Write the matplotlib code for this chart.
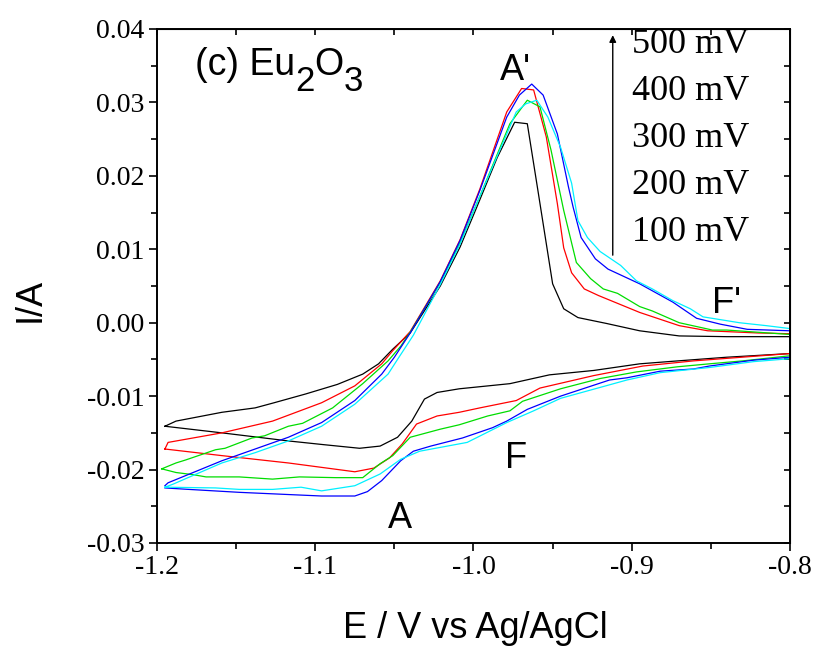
import matplotlib
matplotlib.use('Agg')
from matplotlib import pyplot
from matplotlib.ticker import MultipleLocator, NullFormatter

# ---- data (E in V, I in A); each loop: anodic branch then cathodic branch
e_100 = [-1.195, -1.188, -1.159, -1.138, -1.126, -1.106, -1.086, -1.070, -1.060, -1.051, -1.040, -1.021,
         -1.0085, -0.998, -0.985, -0.974, -0.966, -0.959, -0.950, -0.943, -0.934, -0.916, -0.895, -0.870,
         -0.840, -0.800,
         -0.800, -0.840, -0.871, -0.895, -0.924, -0.952, -0.977, -1.009, -1.023, -1.031, -1.039, -1.048,
         -1.059, -1.072, -1.095, -1.117, -1.159, -1.195]
i_100 = [-0.0141, -0.0134, -0.0122, -0.0116, -0.0109, -0.0097, -0.0084, -0.0070, -0.0056, -0.0036, -0.0014, 0.0050,
         0.0103, 0.0157, 0.0225, 0.0273, 0.0271, 0.0176, 0.0053, 0.0019, 0.0007, -0.0001, -0.0011, -0.0018,
         -0.0019, -0.0019,
         -0.0042, -0.0047, -0.0052, -0.0056, -0.0065, -0.0071, -0.0083, -0.0090, -0.0095, -0.0104, -0.0134, -0.0156,
         -0.0168, -0.0171, -0.0166, -0.0161, -0.0150, -0.0141]

e_200 = [-1.195, -1.193, -1.159, -1.127, -1.096, -1.075, -1.058, -1.051, -1.040, -1.021, -1.0085, -0.996,
         -0.979, -0.9696, -0.962, -0.954, -0.947, -0.943, -0.938, -0.930, -0.921, -0.895, -0.870, -0.852,
         -0.820, -0.800,
         -0.800, -0.861, -0.893, -0.924, -0.958, -0.973, -0.996, -1.009, -1.023, -1.036, -1.045, -1.053,
         -1.063, -1.075, -1.117, -1.159, -1.195]
i_200 = [-0.0172, -0.0163, -0.0150, -0.0134, -0.0109, -0.0086, -0.0056, -0.0038, -0.0012, 0.0057, 0.0113, 0.0182,
         0.0287, 0.0319, 0.0317, 0.0253, 0.0162, 0.0102, 0.0068, 0.0046, 0.0037, 0.0014, -0.0004, -0.0011,
         -0.0014, -0.0015,
         -0.0042, -0.0052, -0.0059, -0.0072, -0.0089, -0.0106, -0.0116, -0.0122, -0.0127, -0.0138, -0.0165, -0.0184,
         -0.0198, -0.0203, -0.0191, -0.0181, -0.0172]

e_300 = [-1.197, -1.188, -1.182, -1.163, -1.157, -1.140, -1.132, -1.117, -1.108, -1.089, -1.085, -1.070,
         -1.054, -1.046, -1.040, -1.021, -1.0085, -0.996, -0.977, -0.966, -0.958, -0.951, -0.943, -0.935,
         -0.926, -0.918, -0.909, -0.895, -0.887, -0.870, -0.849, -0.840, -0.800,
         -0.800, -0.830, -0.851, -0.871, -0.897, -0.920, -0.945, -0.969, -0.977, -0.991, -1.009, -1.021,
         -1.040, -1.051, -1.059, -1.070, -1.087, -1.110, -1.127, -1.148, -1.169, -1.177, -1.188, -1.197]
i_300 = [-0.0199, -0.0191, -0.0187, -0.0173, -0.0171, -0.0157, -0.0154, -0.0141, -0.0137, -0.0116, -0.0109, -0.0083,
         -0.0052, -0.0032, -0.0013, 0.0055, 0.0109, 0.0172, 0.0271, 0.0303, 0.0294, 0.0235, 0.0153, 0.0082,
         0.0060, 0.0046, 0.0040, 0.0022, 0.0016, 0.0000, -0.0010, -0.0010, -0.0016,
         -0.0045, -0.0052, -0.0056, -0.0060, -0.0067, -0.0076, -0.0090, -0.0107, -0.0120, -0.0127, -0.0139, -0.0145,
         -0.0156, -0.0181, -0.0192, -0.0211, -0.0211, -0.0210, -0.0213, -0.0210, -0.0210, -0.0207, -0.0204, -0.0199]

e_400 = [-1.195, -1.193, -1.159, -1.138, -1.117, -1.096, -1.075, -1.058, -1.050, -1.040, -1.021, -1.0085,
         -0.996, -0.979, -0.971, -0.9632, -0.956, -0.947, -0.940, -0.937, -0.932, -0.923, -0.915, -0.895,
         -0.874, -0.859, -0.844, -0.827, -0.800,
         -0.800, -0.823, -0.851, -0.861, -0.882, -0.903, -0.914, -0.945, -0.966, -0.979, -0.988, -1.007,
         -1.027, -1.038, -1.046, -1.058, -1.067, -1.075, -1.096, -1.117, -1.148, -1.180, -1.195]
i_400 = [-0.0222, -0.0218, -0.0188, -0.0172, -0.0156, -0.0136, -0.0106, -0.0070, -0.0047, -0.0014, 0.0056, 0.0112,
         0.0180, 0.0280, 0.0310, 0.0325, 0.0310, 0.0257, 0.0185, 0.0157, 0.0116, 0.0087, 0.0073, 0.0053,
         0.0028, 0.0006, -0.0002, -0.0009, -0.0011,
         -0.0047, -0.0051, -0.0059, -0.0063, -0.0066, -0.0075, -0.0078, -0.0100, -0.0118, -0.0134, -0.0143, -0.0157,
         -0.0168, -0.0175, -0.0188, -0.0215, -0.0230, -0.0236, -0.0236, -0.0234, -0.0231, -0.0227, -0.0225]

e_500 = [-1.195, -1.190, -1.159, -1.138, -1.117, -1.096, -1.075, -1.054, -1.048, -1.038, -1.021, -1.0085,
         -0.996, -0.973, -0.967, -0.960, -0.953, -0.945, -0.938, -0.934, -0.928, -0.920, -0.907, -0.897,
         -0.887, -0.874, -0.863, -0.855, -0.832, -0.815, -0.800,
         -0.800, -0.823, -0.851, -0.882, -0.903, -0.945, -0.962, -0.979, -1.004, -1.034, -1.046, -1.059,
         -1.075, -1.096, -1.109, -1.127, -1.148, -1.163, -1.195]
i_500 = [-0.0224, -0.0220, -0.0191, -0.0177, -0.0161, -0.0141, -0.0111, -0.0070, -0.0050, -0.0017, 0.0052, 0.0107,
         0.0172, 0.0287, 0.0298, 0.0303, 0.0280, 0.0239, 0.0190, 0.0139, 0.0116, 0.0097, 0.0078, 0.0057,
         0.0046, 0.0030, 0.0019, 0.0008, 0.0000, -0.0004, -0.0008,
         -0.0049, -0.0053, -0.0061, -0.0068, -0.0078, -0.0103, -0.0120, -0.0136, -0.0163, -0.0175, -0.0186, -0.0206,
         -0.0222, -0.0229, -0.0224, -0.0227, -0.0227, -0.0225, -0.0224]

scan_labels = ['500 mV', '400 mV', '300 mV', '200 mV', '100 mV']
x_ticks = [-1.2, -1.1, -1.0, -0.9, -0.8]
x_tick_labels = ['-1.2', '-1.1', '-1.0', '-0.9', '-0.8']
y_ticks = [-0.03, -0.02, -0.01, 0.00, 0.01, 0.02, 0.03, 0.04]
y_tick_labels = ['-0.03', '-0.02', '-0.01', '0.00', '0.01', '0.02', '0.03', '0.04']

curves = [(e_100, i_100, '#000000'),
          (e_200, i_200, '#ff0000'),
          (e_300, i_300, '#00dd00'),
          (e_400, i_400, '#0000ff'),
          (e_500, i_500, '#00f0ff')]

serif = 'Liberation Serif'
sans = 'Liberation Sans'

fig = pyplot.figure(figsize=(8.19, 6.5), dpi=100)
ax = fig.add_axes([157 / 819, 1 - 543 / 650, (790 - 157) / 819, (543 - 29) / 650])

for e, i, c in curves:
    ax.plot(e, i, color=c, lw=0.9)

ax.set_xlim(-1.2, -0.8)
ax.set_ylim(-0.03, 0.04)
ax.set_xticks(x_ticks)
ax.set_xticklabels(x_tick_labels, fontfamily=serif, fontsize=20)
ax.set_yticks(y_ticks)
ax.set_yticklabels(y_tick_labels, fontfamily=serif, fontsize=20)
ax.xaxis.set_minor_locator(MultipleLocator(0.05))
ax.yaxis.set_minor_locator(MultipleLocator(0.005))
ax.tick_params(which='major', direction='out', length=6, width=1.2, pad=3)
ax.tick_params(which='minor', direction='out', length=4, width=1.2)
for sp in ax.spines.values():
    sp.set_linewidth(1.4)

# inward ticks on top and right
top = ax.secondary_xaxis('top')
top.xaxis.set_major_locator(MultipleLocator(0.05))
top.xaxis.set_major_formatter(NullFormatter())
top.tick_params(direction='in', length=4, width=1.2)
right = ax.secondary_yaxis('right')
right.yaxis.set_major_locator(MultipleLocator(0.005))
right.yaxis.set_major_formatter(NullFormatter())
right.tick_params(direction='in', length=4, width=1.2)

fig.text(30 / 819, 1 - 300 / 650, 'I/A', rotation=90, ha='center', va='center',
         fontfamily=sans, fontsize=26)
fig.text(475 / 819, 1 - 628 / 650, 'E / V vs Ag/AgCl', ha='center', va='center',
         fontfamily=sans, fontsize=26)

# panel title with Origin-style large subscripts
t1 = ax.text(0.060, 0.895, '(c) Eu', transform=ax.transAxes, ha='left', va='bottom',
             fontfamily=sans, fontsize=27)
t2 = ax.annotate('2', xy=(1, 0), xycoords=t1, xytext=(0, -11), textcoords='offset points',
                 ha='left', va='bottom', fontfamily=sans, fontsize=25)
t3 = ax.annotate('O', xy=(1, 0), xycoords=t2, xytext=(0, 11), textcoords='offset points',
                 ha='left', va='bottom', fontfamily=sans, fontsize=27)
ax.annotate('3', xy=(1, 0), xycoords=t3, xytext=(0, -11), textcoords='offset points',
            ha='left', va='bottom', fontfamily=sans, fontsize=25)

# peak labels
ax.text(0.542, 0.901, "A'", transform=ax.transAxes, ha='left', va='baseline', fontfamily=sans, fontsize=26)
ax.text(0.365, 0.029, 'A', transform=ax.transAxes, ha='left', va='baseline', fontfamily=sans, fontsize=26)
ax.text(0.550, 0.146, 'F', transform=ax.transAxes, ha='left', va='baseline', fontfamily=sans, fontsize=26)
ax.text(0.877, 0.4475, "F'", transform=ax.transAxes, ha='left', va='baseline', fontfamily=sans, fontsize=26)

# scan-rate list with arrow
for k, lab in enumerate(scan_labels):
    ax.text(0.750, 0.969 - k * 0.091, lab, transform=ax.transAxes, ha='left', va='center',
            fontfamily=serif, fontsize=26)
ax.annotate('', xy=(0.720, 0.988), xytext=(0.720, 0.560), xycoords='axes fraction',
            arrowprops=dict(arrowstyle='-|>', lw=1.0, color='k', mutation_scale=10,
                            shrinkA=0, shrinkB=0))

pyplot.savefig('out.png', dpi=100)
